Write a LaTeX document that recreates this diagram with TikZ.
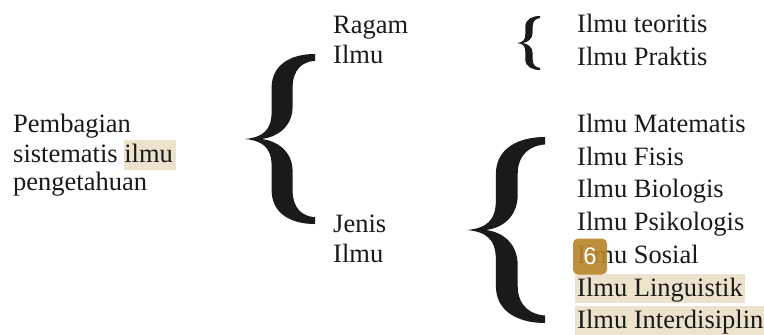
\documentclass[tikz,border=0pt]{standalone}
\usepackage{fontspec}
\setmainfont{Liberation Serif}
\newfontfamily\badgefont{Liberation Sans}
\definecolor{hl}{HTML}{EDE2CC}
\definecolor{badgecol}{HTML}{B9862D}
\definecolor{txtcol}{HTML}{1A1A1A}
% #1,#2 tip position; #3 width; #4 height; #5 stroke centre; #6 stroke thickness (unit)
\newcommand\bracefill[6]{%
  \fill[txtcol,shift={(#1,#2)},xscale=#3,yscale=#4]
    (1,0.5) .. controls (0.66,0.5) and ({#5-#6/2},0.44) .. ({#5-#6/2},0.3)
    -- ({#5-#6/2},0.16) .. controls ({#5-#6/2},0.05) and (0.25,0.01) .. (0,0)
    .. controls (0.25,-0.01) and ({#5-#6/2},-0.05) .. ({#5-#6/2},-0.16)
    -- ({#5-#6/2},-0.3) .. controls ({#5-#6/2},-0.44) and (0.66,-0.5) .. (1,-0.5)
    -- (1,-0.46) .. controls (0.82,-0.455) and ({#5+#6/2},-0.41) .. ({#5+#6/2},-0.3)
    -- ({#5+#6/2},-0.19) .. controls ({#5+#6/2},-0.07) and (0.45,-0.01) .. (0.24,0)
    .. controls (0.45,0.01) and ({#5+#6/2},0.07) .. ({#5+#6/2},0.19)
    -- ({#5+#6/2},0.3) .. controls ({#5+#6/2},0.41) and (0.82,0.455) .. (1,0.46) -- cycle;}
\begin{document}
\begin{tikzpicture}[x=1pt,y=-1pt,
  txt/.style={anchor=base west,inner sep=0pt,text=txtcol,font=\fontsize{26.5}{32}\selectfont},
  mark6/.style={fill=badgecol,fill opacity=0.92,text opacity=1,rounded corners=5pt,
    minimum width=34pt,minimum height=36pt,inner sep=0pt,text=white,
    font=\badgefont\fontsize{24}{24}\selectfont}]
\useasboundingbox (0,0) rectangle (764,335);
% highlights
\fill[hl] (124,140) rectangle (176,170);
\fill[hl] (575,274) rectangle (745,303);
\fill[hl] (575,306) rectangle (764,335);
% left
\node[txt] (pem) at (13,132) {Pembagian};
\node[txt] (sis) at (13,162) {sistematis ilmu};
\node[txt] (pen) at (13,190) {pengetahuan};
% middle
\node[txt] (rag) at (333,33) {Ragam};
\node[txt] (ragi) at (333,63) {Ilmu};
\node[txt] (jen) at (333,232) {Jenis};
\node[txt] (jeni) at (333,262) {Ilmu};
% right
\node[txt] (teo) at (577,32) {Ilmu teoritis};
\node[txt] (pra) at (577,65) {Ilmu Praktis};
\node[txt] (mat) at (577,132.5) {Ilmu Matematis};
\node[txt] (fis) at (577,165.2) {Ilmu Fisis};
\node[txt] (bio) at (577,197.9) {Ilmu Biologis};
\node[txt] (psi) at (577,230.6) {Ilmu Psikologis};
\node[txt] (sos) at (577,263.3) {Ilmu Sosial};
\node[txt] (lin) at (577,296) {Ilmu Linguistik};
\node[txt] (int) at (577,328.7) {Ilmu Interdisiplin};
% braces
\bracefill{245}{139}{70}{170}{0.53}{0.3}
\bracefill{467}{230}{78}{186}{0.51}{0.28}
\bracefill{517}{43}{23}{54}{0.52}{0.32}
% badge
\node[mark6] (b6) at (590,256.5) {6};
\end{tikzpicture}
\end{document}
